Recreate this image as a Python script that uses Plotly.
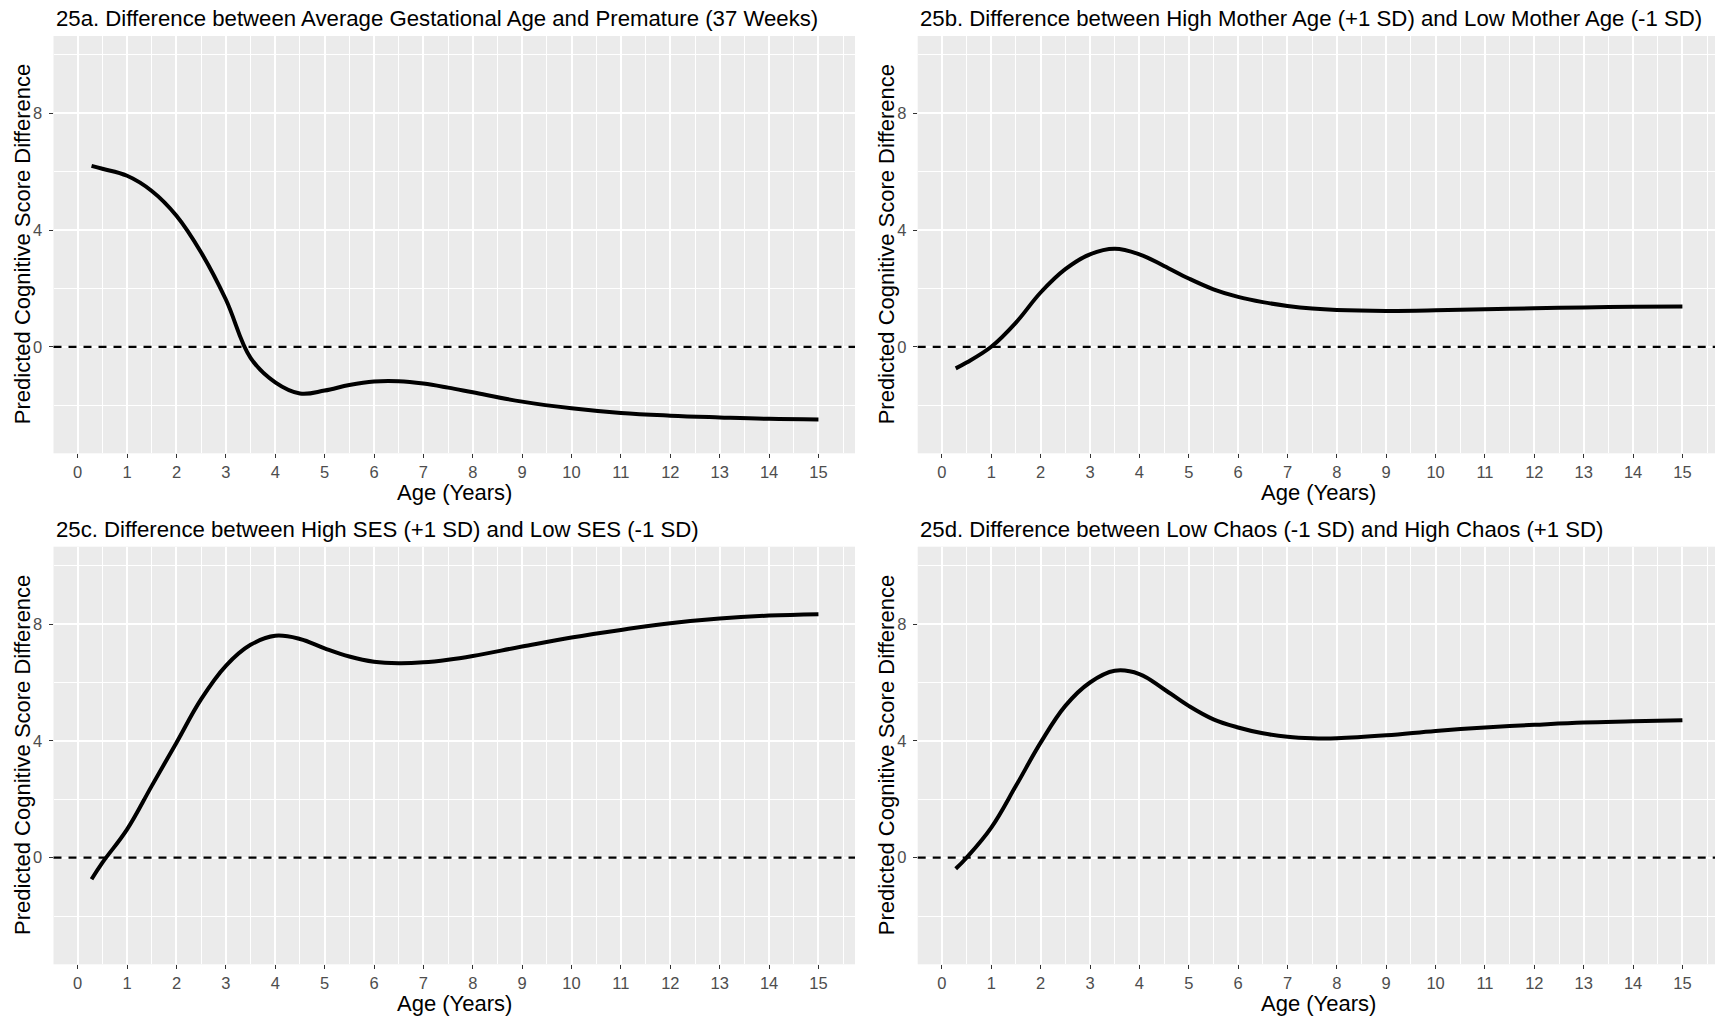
import plotly.graph_objects as go

# ---- data: predicted cognitive score differences by age ----
age_a = [0.28, 0.5, 1, 1.5, 2, 2.5, 3, 3.5, 4, 4.5, 5, 5.5, 6, 6.5, 7, 7.5, 8, 9, 10, 11, 12, 13, 14, 15]
diff_a = [6.2, 6.1, 5.86, 5.34, 4.49, 3.23, 1.62, -0.38, -1.22, -1.6, -1.5, -1.31, -1.19, -1.18, -1.26,
          -1.4, -1.56, -1.88, -2.11, -2.27, -2.36, -2.42, -2.47, -2.49]

age_b = [0.28, 0.5, 1, 1.5, 2, 2.5, 3, 3.5, 4, 4.5, 5, 5.5, 6, 6.5, 7, 7.5, 8, 9, 10, 11, 12, 13, 14, 15]
diff_b = [-0.74, -0.54, 0.0, 0.83, 1.86, 2.66, 3.17, 3.36, 3.17, 2.77, 2.34, 1.97, 1.71, 1.53, 1.4,
          1.31, 1.26, 1.23, 1.25, 1.29, 1.32, 1.35, 1.37, 1.38]

age_c = [0.28, 0.5, 1, 1.5, 2, 2.5, 3, 3.5, 4, 4.5, 5, 5.5, 6, 6.5, 7, 7.5, 8, 9, 10, 11, 12, 13, 14, 15]
diff_c = [-0.74, -0.17, 0.97, 2.46, 3.94, 5.43, 6.57, 7.29, 7.6, 7.49, 7.17, 6.89, 6.71, 6.66,
          6.69, 6.78, 6.91, 7.23, 7.54, 7.8, 8.03, 8.19, 8.29, 8.34]

age_d = [0.28, 0.5, 1, 1.5, 2, 2.5, 3, 3.5, 4, 4.5, 5, 5.5, 6, 6.5, 7, 7.5, 8, 9, 10, 11, 12, 13, 14, 15]
diff_d = [-0.38, 0.0, 1.03, 2.46, 3.94, 5.2, 6.0, 6.4, 6.29, 5.77, 5.2, 4.74, 4.46, 4.26,
          4.14, 4.09, 4.09, 4.19, 4.34, 4.46, 4.55, 4.63, 4.67, 4.71]

titles = [
    "25a. Difference between Average Gestational Age and Premature (37 Weeks)",
    "25b. Difference between High Mother Age (+1 SD) and Low Mother Age (-1 SD)",
    "25c. Difference between High SES (+1 SD) and Low SES (-1 SD)",
    "25d. Difference between Low Chaos (-1 SD) and High Chaos (+1 SD)",
]
x_ticks = list(range(0, 16))
y_ticks = [0, 4, 8]
reference_level = 0
x_label = "Age (Years)"
y_label = "Predicted Cognitive Score Difference"

# ---- page geometry (pixels) ----
W, H = 1715, 1018
FONT = "Liberation Sans, Arial, sans-serif"
PANEL_BG = "#EBEBEB"

left_x = (53.5, 855.0)
right_x = (917.7, 1715.0)
top_y = (36.0, 453.3)
bot_y = (546.7, 964.3)


def xdom(px):
    return [px[0] / W, px[1] / W]


def ydom(py):
    return [1 - py[1] / H, 1 - py[0] / H]


panels = [
    (age_a, diff_a, left_x, top_y, [-0.49, 15.74]),
    (age_b, diff_b, right_x, top_y, [-0.49, 15.66]),
    (age_c, diff_c, left_x, bot_y, [-0.49, 15.74]),
    (age_d, diff_d, right_x, bot_y, [-0.49, 15.66]),
]

fig = go.Figure()
annotations = []
shapes = []
axes = {}

for i, (ages, diffs, px, py, xr) in enumerate(panels, start=1):
    xa = "x" if i == 1 else f"x{i}"
    ya = "y" if i == 1 else f"y{i}"
    suffix = "" if i == 1 else str(i)
    fig.add_trace(go.Scatter(
        x=ages, y=diffs, mode="lines", xaxis=xa, yaxis=ya,
        line=dict(color="black", width=4, shape="spline", smoothing=1.1),
        hoverinfo="skip",
    ))
    axis_common = dict(
        showline=False, zeroline=False,
        ticks="outside", ticklen=4, tickwidth=1.4, tickcolor="#333333",
        tickfont=dict(family=FONT, size=16.5, color="#4D4D4D"),
        showgrid=True, gridcolor="white", gridwidth=1.6,
        fixedrange=True,
    )
    axes[f"xaxis{suffix}"] = dict(
        axis_common, domain=xdom(px), range=xr, anchor=ya,
        tickmode="array", tickvals=x_ticks, ticktext=[str(t) for t in x_ticks],
        minor=dict(showgrid=True, gridcolor="white", gridwidth=0.8,
                   tickvals=[t + 0.5 for t in x_ticks]),
    )
    axes[f"yaxis{suffix}"] = dict(
        axis_common, domain=ydom(py), range=[-3.65, 10.65], anchor=xa,
        tickmode="array", tickvals=y_ticks, ticktext=[str(t) for t in y_ticks],
        ticklabelstandoff=3,
        minor=dict(showgrid=True, gridcolor="white", gridwidth=0.8,
                   tickvals=[-2, 2, 6, 10]),
    )
    # dashed reference line at zero difference
    shapes.append(dict(
        type="line", xref="paper", yref=ya, x0=px[0] / W, x1=min(px[1], W) / W,
        y0=reference_level, y1=reference_level, layer="above",
        line=dict(color="black", width=2.2, dash="8px,7px"),
    ))
    # panel title
    annotations.append(dict(
        text=titles[i - 1], xref="paper", yref="paper",
        x=px[0] / W, y=1 - (py[0] - 17) / H,
        xanchor="left", yanchor="middle", showarrow=False,
        font=dict(family=FONT, size=22.2, color="black"),
    ))
    # axis titles
    full_right = px[0] + 24.2 + 15.74 * 49.37
    annotations.append(dict(
        text=x_label, xref="paper", yref="paper",
        x=(px[0] + full_right) / 2 / W, y=1 - (py[1] + 39.5) / H,
        xanchor="center", yanchor="middle", showarrow=False,
        font=dict(family=FONT, size=22, color="black"),
    ))
    annotations.append(dict(
        text=y_label, xref="paper", yref="paper",
        x=(px[0] - 31) / W, y=1 - (py[0] + py[1]) / 2 / H,
        xanchor="center", yanchor="middle", showarrow=False, textangle=-90,
        font=dict(family=FONT, size=22, color="black"),
    ))

fig.update_layout(
    width=W, height=H,
    margin=dict(l=0, r=0, t=0, b=0),
    paper_bgcolor="white",
    plot_bgcolor=PANEL_BG,
    showlegend=False,
    font=dict(family=FONT, color="black"),
    annotations=annotations,
    shapes=shapes,
    **axes,
)
fig.write_html("out.html")
